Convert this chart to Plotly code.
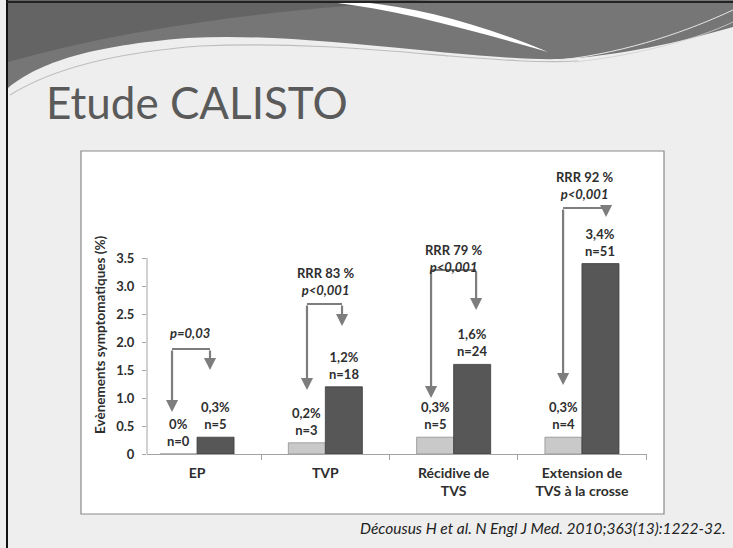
import plotly.graph_objects as go

# ---- data -------------------------------------------------------------
categories = ["EP", "TVP", "Récidive de<br>TVS", "Extension de<br>TVS à la crosse"]
fondaparinux_pct = [0.0, 0.2, 0.3, 0.3]
fondaparinux_n = [0, 3, 5, 4]
placebo_pct = [0.3, 1.2, 1.6, 3.4]
placebo_n = [5, 18, 24, 51]
rrr_pct = [None, 83, 79, 92]
p_values = ["p=0,03", "p<0,001", "p<0,001", "p<0,001"]
y_ticks = [0, 0.5, 1.0, 1.5, 2.0, 2.5, 3.0, 3.5]

# ---- layout constants -------------------------------------------------
W, H = 733, 548
M_L, M_R, M_T, M_B = 147, 86, 174, 94
X_RANGE = [-0.39, 3.507]
Y_MAX = 5.0
BARGAP = 0.423
HALF = (1 - BARGAP) / 4          # bar centre offset from its group centre
FONT = "Lato"
TXT = "#2e2e2e"
ARROW = "#7d7d7d"
AXIS = "#a3a3a3"

# bracket geometry per category: left dx, right dx, top y, left tip y, right tip y
brackets = [
    (-0.195, 0.101, 1.875, 0.75, 1.50),
    (-0.143, 0.130, 2.679, 1.143, 2.286),
    (-0.176, 0.175, 3.286, 1.00, 2.571),
    (-0.147, 0.188, 4.393, 1.232, 4.232),
]
# statistics text placement: dx, centre y
stat_pos = [(-0.055, 2.166), (0.0, 3.077), (-0.005, 3.50), (0.016, 4.80)]


def paper(xp, yp):
    """Pixel position on the page -> paper coordinates."""
    return ((xp - M_L) / (W - M_L - M_R), (H - M_B - yp) / (H - M_T - M_B))


def svg_path(cmds, close=True):
    out = []
    for letter, pts in cmds:
        coords = " ".join("%.5f,%.5f" % paper(*p) for p in pts)
        out.append(f"{letter} {coords}")
    return " ".join(out) + (" Z" if close else "")


def fmt_pct(v):
    return "0%" if v == 0 else f"{v:.1f}".replace(".", ",") + "%"


fig = go.Figure()
fig.add_trace(go.Bar(
    x=categories, y=fondaparinux_pct, name="Fondaparinux",
    marker=dict(color="#c9c9c9", line=dict(color="#909090", width=0.8)),
    showlegend=False, hoverinfo="skip",
))
fig.add_trace(go.Bar(
    x=categories, y=placebo_pct, name="Placebo",
    marker=dict(color="#575757", line=dict(color="#3c3c3c", width=0.8)),
    showlegend=False, hoverinfo="skip",
))

shapes = []
annotations = []

# ---- slide decoration ---------------------------------------------------
shapes.append(dict(type="path", xref="paper", yref="paper", layer="below",
                   line=dict(width=0), fillcolor="#767676",
                   path=svg_path([("M", [(8, 88)]),
                                  ("C", [(40, 62), (90, 46), (187, 38)]),
                                  ("C", [(260, 34), (330, 42), (420, 50)]),
                                  ("C", [(480, 56), (530, 60), (560, 59)]),
                                  ("C", [(620, 56), (680, 42), (733, 27)]),
                                  ("L", [(733, 0)]), ("L", [(8, 0)])])))
shapes.append(dict(type="path", xref="paper", yref="paper", layer="below",
                   line=dict(width=0), fillcolor="#555555", opacity=0.55,
                   path=svg_path([("M", [(8, 0)]), ("L", [(430, 0)]),
                                  ("C", [(300, 8), (150, 22), (8, 62)])])))
shapes.append(dict(type="path", xref="paper", yref="paper", layer="below",
                   line=dict(width=0), fillcolor="#ffffff",
                   path=svg_path([("M", [(330, 2)]),
                                  ("C", [(400, 10), (470, 30), (548, 52)]),
                                  ("C", [(480, 24), (420, 8), (362, 2)])])))
shapes.append(dict(type="path", xref="paper", yref="paper", layer="below",
                   line=dict(color="#bdbdbd", width=1.2),
                   path=svg_path([("M", [(10, 95)]),
                                  ("C", [(50, 70), (110, 53), (200, 46)]),
                                  ("C", [(300, 42), (380, 50), (450, 56)]),
                                  ("C", [(500, 60), (540, 63), (578, 61)])], close=False)))
shapes.append(dict(type="path", xref="paper", yref="paper", layer="below",
                   line=dict(color="#e6e6e6", width=1),
                   path=svg_path([("M", [(560, 60)]),
                                  ("C", [(630, 52), (690, 30), (733, 10)])], close=False)))
shapes.append(dict(type="path", xref="paper", yref="paper", layer="below",
                   line=dict(color="#d0d0d0", width=0.8),
                   path=svg_path([("M", [(575, 62)]),
                                  ("C", [(640, 55), (700, 38), (733, 22)])], close=False)))
# page border
x0, y0 = paper(7, 0)
x1, y1 = paper(7, H)
shapes.append(dict(type="line", xref="paper", yref="paper", layer="below",
                   x0=x0, x1=x1, y0=y0, y1=y1, line=dict(color="#111111", width=2)))
x0, y0 = paper(7, 2)
x1, y1 = paper(W, 2)
shapes.append(dict(type="line", xref="paper", yref="paper", layer="below",
                   x0=x0, x1=x1, y0=y0, y1=y1, line=dict(color="#222222", width=2)))

# white chart panel
bx0, by0 = paper(81, 514)
bx1, by1 = paper(664, 151)
shapes.append(dict(type="rect", xref="paper", yref="paper", layer="below",
                   x0=bx0, x1=bx1, y0=by0, y1=by1, fillcolor="#ffffff",
                   line=dict(color="#8a8a8a", width=1.2)))

# y axis line, up to the last tick
shapes.append(dict(type="line", xref="paper", yref="paper", layer="above",
                   x0=0, x1=0, y0=0, y1=y_ticks[-1] / Y_MAX,
                   line=dict(color=AXIS, width=1)))

# ---- value labels over bars -------------------------------------------
for i in range(len(categories)):
    for dx, v, n in ((-HALF, fondaparinux_pct[i], fondaparinux_n[i]),
                     (HALF, placebo_pct[i], placebo_n[i])):
        annotations.append(dict(
            x=i + dx, y=v, xref="x", yref="y", yanchor="bottom", yshift=3,
            text=f"<b>{fmt_pct(v)}<br>n={n}</b>", showarrow=False,
            font=dict(family=FONT, size=13, color=TXT),
        ))

# ---- comparison brackets and statistics --------------------------------
for i, (ldx, rdx, top, ltip, rtip) in enumerate(brackets):
    shapes.append(dict(type="line", xref="x", yref="y",
                       x0=i + ldx, x1=i + rdx, y0=top, y1=top,
                       line=dict(color=ARROW, width=2.2)))
    for dx, tip in ((ldx, ltip), (rdx, rtip)):
        annotations.append(dict(
            x=i + dx, y=tip, ax=i + dx, ay=top, xref="x", yref="y",
            axref="x", ayref="y", text="", showarrow=True,
            arrowhead=2, arrowsize=1.1, arrowwidth=2.2, arrowcolor=ARROW,
            standoff=0,
        ))
    sdx, sy = stat_pos[i]
    p_txt = "<b><i>" + p_values[i].replace("<", "&lt;") + "</i></b>"
    txt = p_txt if rrr_pct[i] is None else f"<b>RRR {rrr_pct[i]} %</b><br>{p_txt}"
    annotations.append(dict(
        x=i + sdx, y=sy, xref="x", yref="y", yanchor="middle",
        text=txt, showarrow=False, font=dict(family=FONT, size=13, color=TXT),
    ))

# ---- titles --------------------------------------------------------------
tx, ty = paper(44, 102)
annotations.append(dict(x=tx, y=ty, xref="paper", yref="paper",
                        xanchor="left", yanchor="middle", showarrow=False,
                        text="Etude CALISTO",
                        font=dict(family=FONT, size=44, color="#5a5a5a")))
ax_x, ax_y = paper(100, 335)
annotations.append(dict(x=ax_x, y=ax_y, xref="paper", yref="paper",
                        xanchor="center", yanchor="middle", showarrow=False,
                        textangle=-90, text="<b>Evènements symptomatiques (%)</b>",
                        font=dict(family=FONT, size=13.5, color=TXT)))
cx, cy = paper(728, 528)
annotations.append(dict(x=cx, y=cy, xref="paper", yref="paper",
                        xanchor="right", yanchor="middle", showarrow=False,
                        text="<i>Décousus H et al. N Engl J Med. 2010;363(13):1222-32.</i>",
                        font=dict(family=FONT, size=15.5, color="#222222")))

fig.update_layout(
    width=W, height=H, autosize=False,
    margin=dict(l=M_L, r=M_R, t=M_T, b=M_B, pad=0),
    paper_bgcolor="#eeeeee", plot_bgcolor="rgba(0,0,0,0)",
    barmode="group", bargap=BARGAP, bargroupgap=0,
    shapes=shapes, annotations=annotations,
    xaxis=dict(type="category", range=X_RANGE, showline=True, linecolor=AXIS,
               linewidth=1, ticks="outside", tickson="boundaries", ticklen=5,
               tickcolor=AXIS, showgrid=False, zeroline=False, fixedrange=True,
               ticklabelstandoff=6,
               tickfont=dict(family=FONT, size=14, color=TXT, weight="bold")),
    yaxis=dict(range=[0, Y_MAX], tickvals=y_ticks,
               ticktext=["0" if v == 0 else f"{v:.1f}" for v in y_ticks],
               ticks="outside", ticklen=4, tickcolor=AXIS, showline=False,
               showgrid=False, zeroline=False, fixedrange=True,
               ticklabelstandoff=5,
               tickfont=dict(family=FONT, size=13, color=TXT, weight="bold")),
    font=dict(family=FONT),
)

fig.write_html("out.html")
